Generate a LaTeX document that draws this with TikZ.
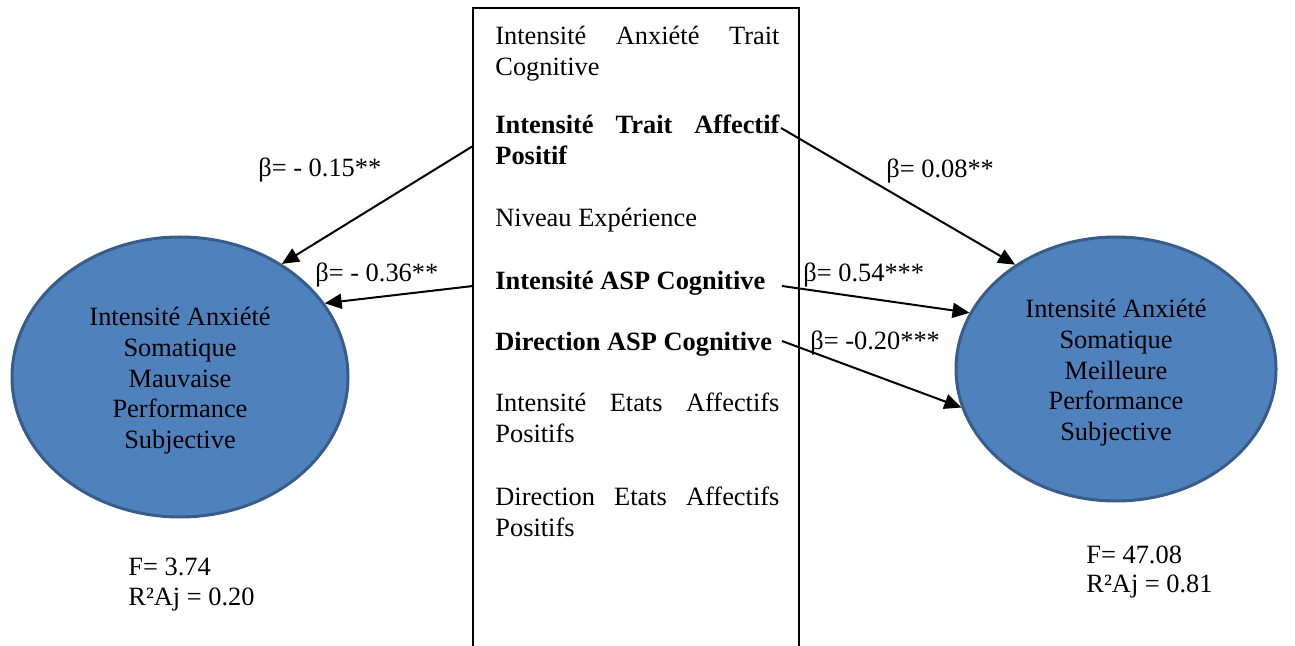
\documentclass[tikz,border=0pt]{standalone}
\usepackage{fontspec}
\setmainfont{Liberation Serif}
\usetikzlibrary{shapes.geometric,arrows.meta}
\definecolor{ellfill}{HTML}{4F81BD}
\definecolor{elldraw}{HTML}{385D8A}
\newcommand\diagfont{\fontsize{13.2}{15.3}\selectfont\hyphenpenalty=10000\tolerance=10000}
\tikzset{
	item/.style={anchor=north west,inner sep=0pt,text width=142pt,align=justify},
	bolditem/.style={item,font=\diagfont\bfseries},
	latent/.style 2 args={ellipse,fill=ellfill,draw=elldraw,line width=1.5pt,align=center,minimum width=#1,minimum height=#2,inner sep=0pt},
	beta/.style={anchor=base west,inner sep=0pt},
	stat/.style={anchor=base west,inner sep=0pt},
	effect/.style={line width=1pt,-{Triangle[length=8.5pt,width=7.5pt]}}
}

\begin{document}
\begin{tikzpicture}[x=0.5pt,y=-0.5pt,font=\diagfont]
	\useasboundingbox (0,0) rectangle (1295,646);

	% predictors
	\draw[line width=1pt] (473,646) -- (473,8) -- (799,8) -- (799,646);
	\node [item] (itA) at (495,26) {Intensité Anxiété Trait Cognitive};
	\node [bolditem] (itB) at (495,115) {Intensité Trait Affectif Positif};
	\node [item] (itC) at (495,208) {Niveau Expérience};
	\node [bolditem] (itD) at (495,271) {Intensité ASP Cognitive};
	\node [bolditem] (itE) at (495,332) {Direction ASP Cognitive};
	\node [item] (itF) at (495,393) {Intensité Etats Affectifs Positifs};
	\node [item] (itG) at (495,487) {Direction Etats Affectifs Positifs};

	% outcomes
	\node [latent={168pt}{140pt}] (bad) at (180,377)
		{\rule{0pt}{13pt}Intensité Anxiété\\Somatique\\Mauvaise\\Performance\\Subjective};
	\node [latent={160pt}{132pt}] (good) at (1116,369)
		{\rule{0pt}{13pt}Intensité Anxiété\\Somatique\\Meilleure\\Performance\\Subjective};

	\node [stat] (fbad) at (128,575) {F= 3.74};
	\node [stat] (rbad) at (128,605) {R²Aj = 0.20};
	\node [stat] (fgood) at (1086,563) {F= 47.08};
	\node [stat] (rgood) at (1086,592) {R²Aj = 0.81};

	% paths
	\coordinate (oB) at (473,146);
	\coordinate (oD) at (473,286);
	\coordinate (pB) at (781,128);
	\coordinate (pD) at (782,286);
	\coordinate (pE) at (782,341);

	\draw[effect] (oB) -- (bad.48);
	\draw[effect] (oD) -- (bad.27);
	\draw[effect] (pB) -- (good.134);
	\draw[effect] (pD) -- (good.159);
	\draw[effect] (pE) -- (good.194);

	\node [beta] (b1) at (258,177) {β= - 0.15**};
	\node [beta] (b2) at (315,282) {β= - 0.36**};
	\node [beta] (b3) at (886,178) {β= 0.08**};
	\node [beta] (b4) at (803,282) {β= 0.54***};
	\node [beta] (b5) at (810,350) {β= -0.20***};
\end{tikzpicture}
\end{document}
